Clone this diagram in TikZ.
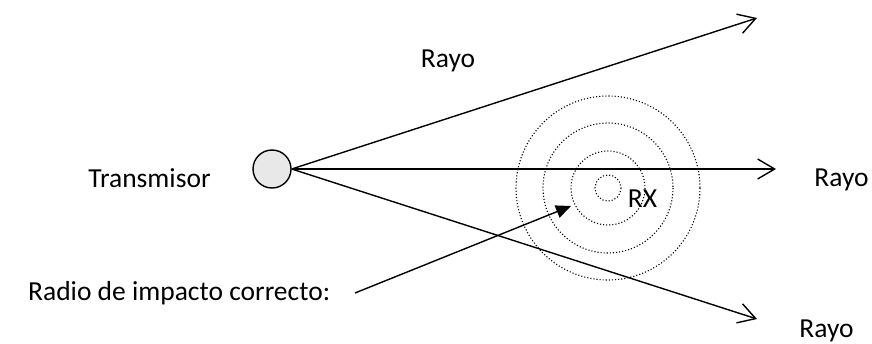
\documentclass[tikz,border=0pt]{standalone}
\usepackage{fontspec}
\setmainfont{Carlito}
\usetikzlibrary{arrows.meta}
\begin{document}
\begin{tikzpicture}[x=1pt,y=-1pt,
  lbl/.style={font=\fontsize{27.5}{32}\selectfont, inner sep=0pt, anchor=base},
  ray/.style={line width=1.4pt, -{Straight Barb[length=17pt,width=20pt,line width=1.4pt]}},
  ring/.style={draw, dotted, line width=1.1pt},
  ptr/.style={line width=1.4pt, -{Triangle[length=15pt,width=13pt]}}]
\useasboundingbox (0,0) rectangle (872,343);
\node[circle, draw, line width=1.4pt, fill=black!9, minimum size=38pt, inner sep=0pt] (tx) at (272,169) {};
\coordinate (t1) at (757,18);
\coordinate (t2) at (776,169);
\coordinate (t3) at (757,319);
\draw[ray] (tx.east) -- (t1);
\draw[ray] (tx.east) -- (t2);
\draw[ray] (tx.east) -- (t3);
\coordinate (rc) at (608,188);
\foreach \r in {13,37,65,92} \draw[ring] (rc) circle (\r);
\node[lbl] (rx) at (642.5,207) {RX};
\coordinate (ps) at (355,293);
\coordinate (pe) at (571,206);
\draw[ptr] (ps) -- (pe);
\node[lbl] (r1) at (448,67) {Rayo};
\node[lbl] (trans) at (149.5,187) {Transmisor};
\node[lbl] (r2) at (841.5,186) {Rayo};
\node[lbl, anchor=base west] (rad) at (28,300) {Radio de impacto correcto:};
\node[lbl] (r3) at (826.5,337) {Rayo};
\end{tikzpicture}
\end{document}
